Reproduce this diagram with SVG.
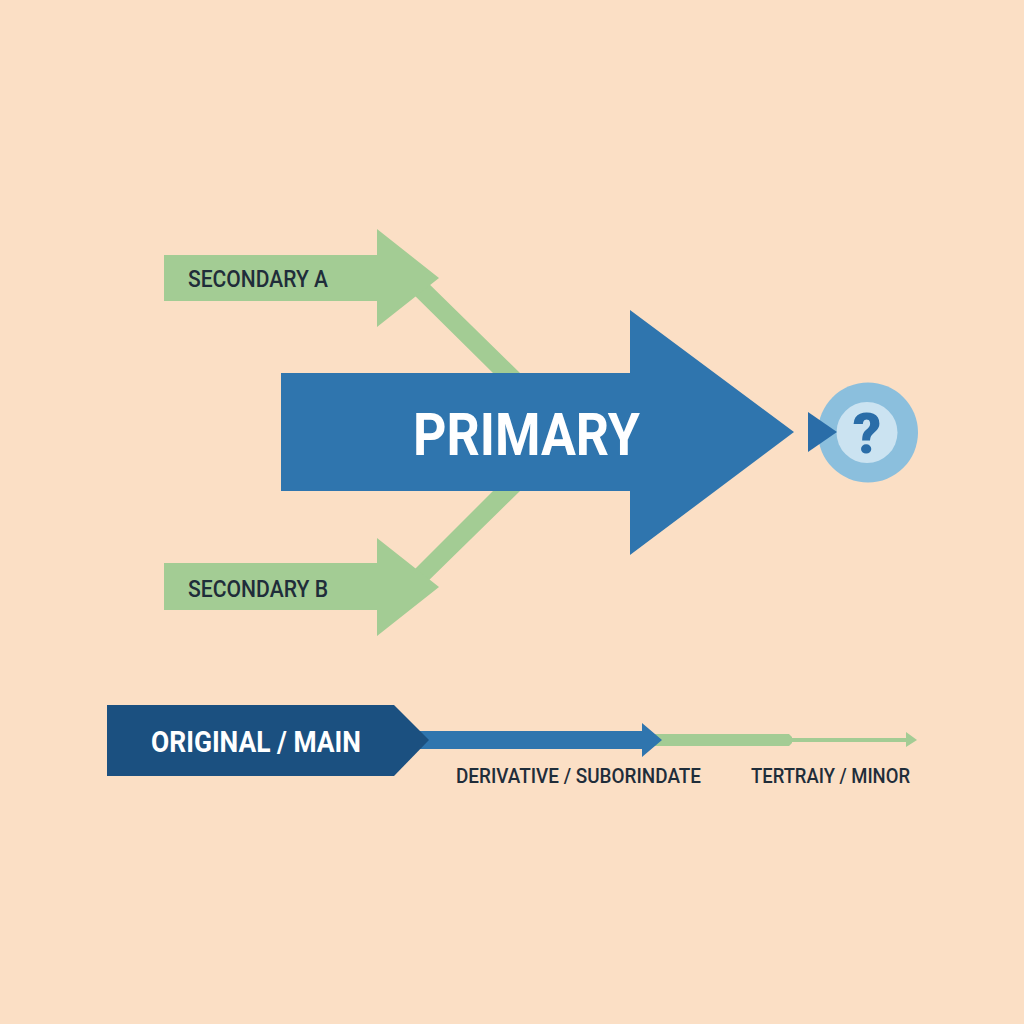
<svg xmlns="http://www.w3.org/2000/svg" width="1024" height="1024" viewBox="0 0 1024 1024">
<style>
.g{fill:#A3CC94}.b{fill:#2F75AE}
text{font-family:Roboto,"Liberation Sans",sans-serif}
.d{fill:#1F2D3A;font-weight:500}
.w{fill:#fff;font-weight:700}
</style>
<rect width="1024" height="1024" fill="#FBDFC5"/>
<g id="connectors">
<polygon class="g" points="406,287 421,276 520,373 520,380 493,380 493,373"/>
<polygon class="g" points="406,578 421,588 520,491 520,484 493,484 493,491"/>
</g>
<g id="secondary-a">
<polygon class="g" points="164,255 377,255 377,229 439,278 377,327 377,301 164,301"/>
<text class="d" x="188" y="287" font-size="24" textLength="140" lengthAdjust="spacingAndGlyphs">SECONDARY A</text>
</g>
<g id="secondary-b">
<polygon class="g" points="164,563 377,563 377,538 439,587 377,636 377,610 164,610"/>
<text class="d" x="188" y="596.500" font-size="24" textLength="140" lengthAdjust="spacingAndGlyphs">SECONDARY B</text>
</g>
<g id="primary">
<polygon class="b" points="281,373 630,373 630,310 794,432 630,555 630,491 281,491"/>
<text class="w" x="413" y="455" font-size="59" textLength="227" lengthAdjust="spacingAndGlyphs">PRIMARY</text>
</g>
<g id="unknown">
<circle cx="868" cy="432.500" r="50" fill="#8BBFDD"/>
<circle cx="867" cy="432.500" r="30.500" fill="#CBE3F1"/>
<polygon points="808,412 808,452 837,432" fill="#2A6DA8"/>
<text x="867" y="453" font-size="56" font-weight="900" text-anchor="middle" fill="#2A6DA8">?</text>
</g>
<g id="tertiary">
<polygon class="g" points="655,734 789,734 792,737 792,738 906,738 906,732 917,740 906,747 906,742 792,742 792,743 789,746 655,746"/>
<text class="d" x="751" y="782.500" font-size="21" textLength="159" lengthAdjust="spacingAndGlyphs">TERTRAIY / MINOR</text>
</g>
<g id="derivative">
<polygon class="b" points="420,731 642,731 642,723 662,740 642,757 642,749 420,749"/>
<text class="d" x="456" y="782.500" font-size="21" textLength="245" lengthAdjust="spacingAndGlyphs">DERIVATIVE / SUBORINDATE</text>
</g>
<g id="original">
<polygon fill="#1B5080" points="107,705 394,705 429,740 394,776 107,776"/>
<text class="w" x="151" y="752" font-size="30" font-weight="500" textLength="210" lengthAdjust="spacingAndGlyphs">ORIGINAL / MAIN</text>
</g>
</svg>
